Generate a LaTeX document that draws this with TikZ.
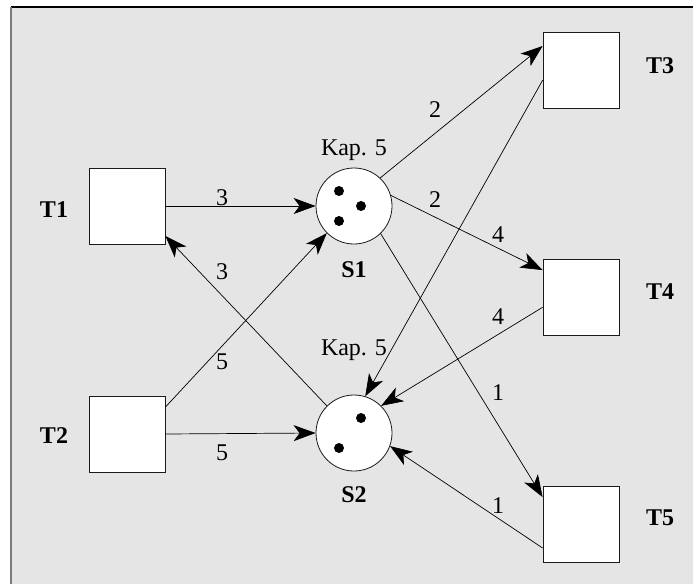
\documentclass[tikz,border=0pt]{standalone}
\usepackage{fontspec}
\setmainfont{Liberation Serif}
\usetikzlibrary{arrows.meta}
\definecolor{panel}{HTML}{E5E5E5}
\definecolor{rim}{HTML}{7A7A7A}
\definecolor{edge}{HTML}{1A1A1A}

\tikzset{
  trans/.style={draw=edge, fill=white, minimum size=76pt, inner sep=0pt, line width=0.8pt},
  place/.style={draw=edge, circle, fill=white, minimum size=76pt, inner sep=0pt, line width=0.8pt},
  token/.style={fill=black, circle, minimum size=10pt, inner sep=0pt},
  arc/.style={-{Stealth[length=22pt,width=16pt,inset=6pt]}, line width=0.7pt},
  txt/.style={font=\fontsize{24}{28}\selectfont},
  tname/.style={font=\fontsize{24}{28}\selectfont\bfseries},
}

\begin{document}
\begin{tikzpicture}[x=1pt,y=-1pt]
  \useasboundingbox (0,0) rectangle (693,584);
  % background panel
  \fill[panel] (11,7) rectangle (693,584);
  \draw[black,line width=1.4pt] (11,7) -- (693,7);
  \draw[rim,line width=1.6pt] (11,7) -- (11,584);

  % transitions
  \node[trans] (T1) at (127,206) {};
  \node[trans] (T2) at (127,434) {};
  \node[trans] (T3) at (581,70) {};
  \node[trans] (T4) at (581,297) {};
  \node[trans] (T5) at (581,524) {};
  \node[tname] (nT1) at (54,210) {T1};
  \node[tname] (nT2) at (54,436) {T2};
  \node[tname] (nT3) at (660,66) {T3};
  \node[tname] (nT4) at (660,292) {T4};
  \node[tname] (nT5) at (660,518) {T5};

  % places
  \node[place] (S1) at (354,206) {};
  \node[place] (S2) at (354,433) {};
  \node[tname] (nS1) at (354,270) {S1};
  \node[tname] (nS2) at (354,495) {S2};
  \node[txt] (k1) at (354,150) {Kap. 5};
  \node[txt] (k2) at (354,350) {Kap. 5};

  % tokens
  \node[token] (m1) at (339,191) {};
  \node[token] (m2) at (361,206) {};
  \node[token] (m3) at (339,221) {};
  \node[token] (m4) at (361,418) {};
  \node[token] (m5) at (339,448) {};

  % arcs
  \draw[arc] (T1.east) -- (S1.west);
  \draw[arc] (T2.east) -- (S2.west);
  \draw[arc] (T2.35) -- (S1.225);
  \draw[arc] (S2.135) -- (T1.-38);
  \draw[arc] (S1.47) -- (T3.148);
  \draw[arc] (S1.16) -- (T4.145);
  \draw[arc] (T3.195) -- (S2.73);
  \draw[arc] (T4.195) -- (S2.45);
  \draw[arc] (S1.-46) -- (T5.145);
  \draw[arc] (T5.212) -- (S2.-20);

  % weights
  \node[txt] (w1) at (222,198) {3};
  \node[txt] (w2) at (222,453) {5};
  \node[txt] (w3) at (222,362) {5};
  \node[txt] (w4) at (222,272) {3};
  \node[txt] (w5) at (435,110) {2};
  \node[txt] (w6) at (435,200) {2};
  \node[txt] (w7) at (498,235) {4};
  \node[txt] (w8) at (498,317) {4};
  \node[txt] (w9) at (498,393) {1};
  \node[txt] (w10) at (498,506) {1};
\end{tikzpicture}
\end{document}
